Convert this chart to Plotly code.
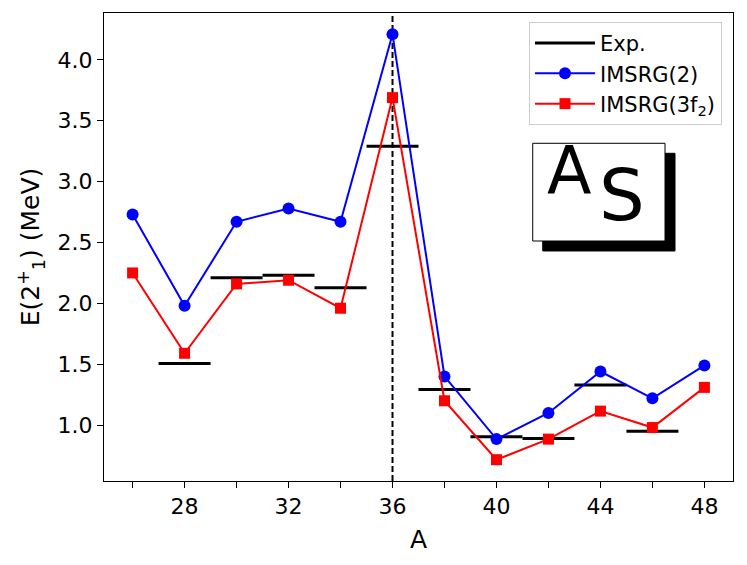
import plotly.graph_objects as go

# ---- data ----
mass_A = [26, 28, 30, 32, 34, 36, 38, 40, 42, 44, 46, 48]
imsrg2 = [2.73, 1.98, 2.67, 2.78, 2.67, 4.21, 1.40, 0.885, 1.10, 1.44, 1.22, 1.49]
imsrg3f2 = [2.25, 1.59, 2.16, 2.19, 1.96, 3.69, 1.20, 0.716, 0.885, 1.115, 0.98, 1.31]

exp_A = [28, 30, 32, 34, 36, 38, 40, 42, 44, 46]
exp_E = [1.507, 2.211, 2.230, 2.128, 3.291, 1.292, 0.904, 0.890, 1.329, 0.95]
exp_halfwidth = 1.0

magic_A = 36
x_range = [24.9, 49.1]
y_range = [0.541, 4.385]

FONT = "DejaVu Sans"

# exp horizontal bars built from the data
ex, ey = [], []
for a, e in zip(exp_A, exp_E):
    ex += [a - exp_halfwidth, a + exp_halfwidth, None]
    ey += [e, e, None]

fig = go.Figure()
fig.add_trace(go.Scatter(x=ex, y=ey, mode="lines", name="Exp.",
                         line=dict(color="black", width=3)))
fig.add_trace(go.Scatter(x=mass_A, y=imsrg2, mode="lines+markers", name="IMSRG(2)",
                         line=dict(color="blue", width=2),
                         marker=dict(symbol="circle", size=12, color="blue")))
fig.add_trace(go.Scatter(x=mass_A, y=imsrg3f2, mode="lines+markers",
                         name="IMSRG(3f<sub>2</sub>)",
                         line=dict(color="red", width=2),
                         marker=dict(symbol="square", size=11, color="red")))

# dashed vertical line at N=20 (A=36)
fig.add_shape(type="line", x0=magic_A, x1=magic_A, y0=0, y1=1, xref="x", yref="paper",
              line=dict(color="black", width=2, dash="6px,3px"), layer="below")

# inset label box with shadow
fig.add_shape(type="rect", xref="paper", yref="paper", x0=0.6975, x1=0.9078, y0=0.4915, y1=0.7002,
              fillcolor="black", line=dict(color="black", width=1))
fig.add_shape(type="rect", xref="paper", yref="paper", x0=0.6816, x1=0.8919, y0=0.5128, y1=0.7216,
              fillcolor="white", line=dict(color="black", width=1))
fig.add_annotation(xref="paper", yref="paper", x=0.739, y=0.664, text="A", showarrow=False,
                   font=dict(family=FONT, size=65, color="black"), xanchor="center", yanchor="middle")
fig.add_annotation(xref="paper", yref="paper", x=0.823, y=0.612, text="S", showarrow=False,
                   font=dict(family=FONT, size=72, color="black"), xanchor="center", yanchor="middle")

fig.update_layout(
    width=739, height=557,
    margin=dict(l=96, r=14, t=5, b=84, autoexpand=False),
    paper_bgcolor="white", plot_bgcolor="white",
    font=dict(family=FONT, size=22, color="black"),
    showlegend=True,
    legend=dict(x=0.9825, y=0.981, xanchor="right", yanchor="top",
                bgcolor="rgba(255,255,255,0.8)", bordercolor="#cccccc", borderwidth=1,
                font=dict(family=FONT, size=21), tracegroupgap=0, itemwidth=60),
)
fig.update_xaxes(range=x_range, showgrid=False, zeroline=False, automargin=False,
                 showline=True, linecolor="black", linewidth=1, mirror=True,
                 ticks="outside", ticklen=6, tickwidth=1, tickcolor="black",
                 tick0=28, dtick=4,
                 minor=dict(tick0=26, dtick=2, ticks="outside", ticklen=6, tickwidth=1, tickcolor="black"),
                 title=dict(text="A", font=dict(size=25), standoff=12))
fig.update_yaxes(range=y_range, showgrid=False, zeroline=False, automargin=False,
                 showline=True, linecolor="black", linewidth=1, mirror=True,
                 ticks="outside", ticklen=6, tickwidth=1, tickcolor="black",
                 tick0=1.0, dtick=0.5, tickformat=".1f",
                 title=dict(text="E(2<sup>+</sup><sub>1</sub>) (MeV)", font=dict(size=25), standoff=10))

fig.write_html("out.html")
